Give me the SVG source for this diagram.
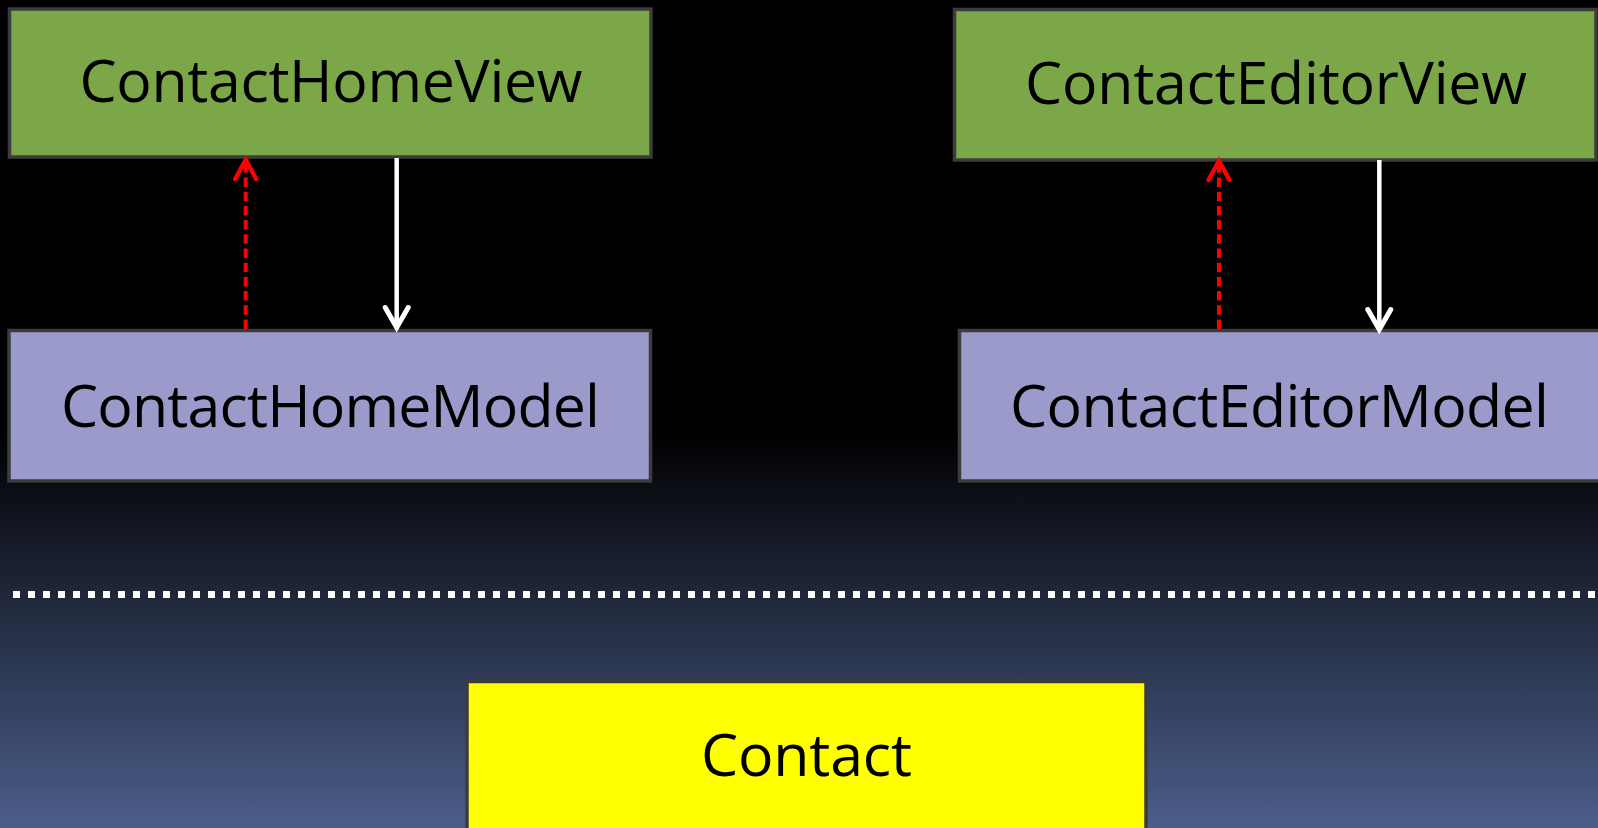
<svg xmlns="http://www.w3.org/2000/svg" width="1598" height="828" viewBox="0 0 1598 828">
  <defs>
    <linearGradient id="bg" x1="0" y1="0" x2="0" y2="1">
      <stop offset="0" stop-color="#000000"/>
      <stop offset="0.52" stop-color="#000000"/>
      <stop offset="1" stop-color="#4b5e8b"/>
    </linearGradient>
    <marker id="headRed" markerUnits="userSpaceOnUse" markerWidth="30" markerHeight="30" viewBox="-24 -15 30 30" refX="0" refY="0" orient="auto" overflow="visible">
      <path d="M -19 -10.5 L 0 0 L -19 10.5" fill="none" stroke="#ff0000" stroke-width="4.5" stroke-linecap="round" stroke-linejoin="miter"/>
    </marker>
    <marker id="headWhite" markerUnits="userSpaceOnUse" markerWidth="30" markerHeight="30" viewBox="-24 -15 30 30" refX="0" refY="0" orient="auto" overflow="visible">
      <path d="M -20 -11.5 L 0 0 L -20 11.5" fill="none" stroke="#ffffff" stroke-width="5" stroke-linecap="round" stroke-linejoin="miter"/>
    </marker>
  </defs>
  <style>
    .box { stroke: #3c3c3c; stroke-width: 3.5; }
    .view { fill: #7ba749; }
    .model { fill: #9a9acb; }
    .entity { fill: #ffff00; }
    .label { font-family: "Open Sans", "DejaVu Sans", sans-serif; font-size: 59px; fill: #000000; text-anchor: middle; }
    .notify { fill: none; stroke: #ff0000; stroke-width: 4; stroke-dasharray: 9.5 4.7; }
    .bind { fill: none; stroke: #ffffff; stroke-width: 4.5; }
    .divider { fill: none; stroke: #ffffff; stroke-width: 7; stroke-dasharray: 7 8; }
  </style>

  <!-- background -->
  <rect x="0" y="0" width="1598" height="828" fill="url(#bg)"/>

  <!-- layer separator -->
  <line class="divider" x1="13" y1="594.5" x2="1598" y2="594.5"/>

  <g id="contact-home-view">
    <rect class="box view" x="9.5" y="9" width="641.5" height="148"/>
    <text class="label" x="331" y="102" textLength="503">ContactHomeView</text>
  </g>

  <g id="contact-editor-view">
    <rect class="box view" x="954.5" y="9.5" width="641.5" height="150.5"/>
    <text class="label" x="1276" y="104" textLength="502">ContactEditorView</text>
  </g>

  <g id="contact-home-model">
    <rect class="box model" x="9" y="330.5" width="641.5" height="150.5"/>
    <text class="label" x="330.5" y="426.5" textLength="539">ContactHomeModel</text>
  </g>

  <g id="contact-editor-model">
    <rect class="box model" x="959.5" y="330.5" width="641.5" height="150.5"/>
    <text class="label" x="1279.5" y="426.5" textLength="539">ContactEditorModel</text>
  </g>

  <g id="contact">
    <rect class="box entity" x="467" y="681.5" width="679" height="160"/>
    <text class="label" x="806.5" y="776" textLength="211">Contact</text>
  </g>

  <g id="connectors">
    <!-- model notifies view -->
    <line class="notify" x1="245.7" y1="329" x2="245.7" y2="160" marker-end="url(#headRed)"/>
    <line class="notify" x1="1219" y1="329" x2="1219" y2="161" marker-end="url(#headRed)"/>
    <!-- view updates model -->
    <line class="bind" x1="396.7" y1="158" x2="396.7" y2="327.5" marker-end="url(#headWhite)"/>
    <line class="bind" x1="1379.3" y1="160" x2="1379.3" y2="329.5" marker-end="url(#headWhite)"/>
  </g>
</svg>
